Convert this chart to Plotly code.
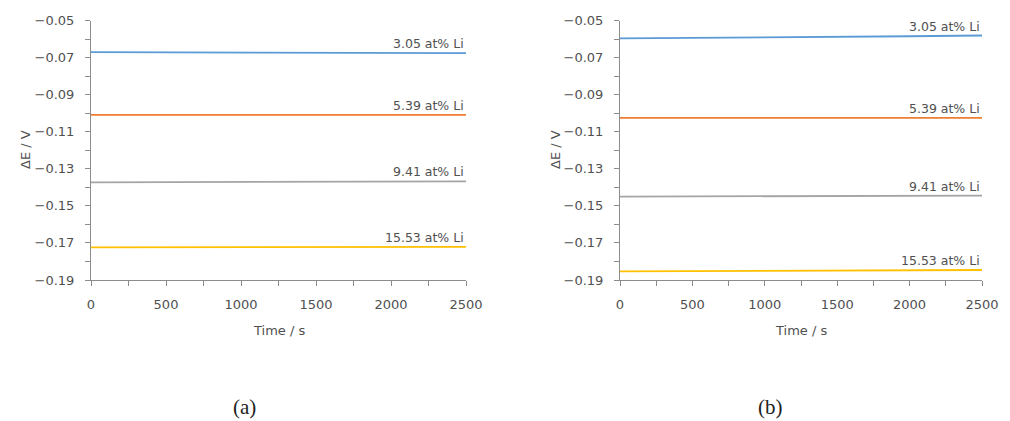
import plotly.graph_objects as go

# Cell potential difference vs. time for four Li concentrations
time_s = [0, 500, 1000, 1500, 2000, 2500]
labels = ["3.05 at% Li", "5.39 at% Li", "9.41 at% Li", "15.53 at% Li"]
colors = ["#5B9BD5", "#ED7D31", "#A5A5A5", "#FFC000"]

# Panel (a)
a_305 = [-0.0671, -0.0672, -0.0673, -0.0674, -0.0675, -0.0676]
a_539 = [-0.1009, -0.1009, -0.1009, -0.1009, -0.1009, -0.1009]
a_941 = [-0.1373, -0.1372, -0.1371, -0.1370, -0.1369, -0.1368]
a_1553 = [-0.1724, -0.1723, -0.1723, -0.1722, -0.1722, -0.1721]

# Panel (b)
b_305 = [-0.0596, -0.0594, -0.0592, -0.0589, -0.0585, -0.0581]
b_539 = [-0.1025, -0.1025, -0.1025, -0.1025, -0.1025, -0.1025]
b_941 = [-0.1450, -0.1449, -0.1448, -0.1447, -0.1446, -0.1445]
b_1553 = [-0.1854, -0.1853, -0.1851, -0.1849, -0.1848, -0.1846]

panels = [
    ("x", "y", [a_305, a_539, a_941, a_1553]),
    ("x2", "y2", [b_305, b_539, b_941, b_1553]),
]

y_ticks = [-0.05, -0.07, -0.09, -0.11, -0.13, -0.15, -0.17, -0.19]
x_ticks = [0, 500, 1000, 1500, 2000, 2500]

FONT = "DejaVu Sans"
TXT = "#505050"
AXC = "#8c8c8c"

H = 421.0
W = 1010.0

fig = go.Figure()
annotations = []
for xa, ya, series in panels:
    for lab, col, vals in zip(labels, colors, series):
        fig.add_trace(go.Scatter(x=time_s, y=vals, mode="lines",
                                 line=dict(color=col, width=1.8),
                                 xaxis=xa, yaxis=ya, showlegend=False,
                                 hoverinfo="skip"))
        annotations.append(dict(x=2500, y=vals[-1], xref=xa, yref=ya,
                                text=lab, showarrow=False, xanchor="right",
                                yanchor="bottom", yshift=0,
                                font=dict(family=FONT, size=12.5, color=TXT)))

y_dom = [1 - 280 / H, 1 - 20.5 / H]

def xaxis(domain, anchor):
    return dict(domain=domain, anchor=anchor, range=[0, 2500],
                tickvals=x_ticks, showgrid=False, zeroline=False,
                automargin=False,
                showline=True, linecolor=AXC, linewidth=1,
                ticks="outside", ticklen=5, tickcolor=AXC,
                ticklabelstandoff=7,
                minor=dict(ticks="outside", dtick=250, ticklen=5,
                           tickcolor=AXC, showgrid=False),
                tickfont=dict(family=FONT, size=13, color=TXT))

def yaxis(domain, anchor):
    return dict(domain=domain, anchor=anchor, range=[-0.19, -0.05],
                tickvals=y_ticks, tickformat=".2f", showgrid=False,
                zeroline=False, showline=True, linecolor=AXC, linewidth=1,
                automargin=False,
                ticks="outside", ticklen=5, tickcolor=AXC,
                ticklabelstandoff=8,
                minor=dict(ticks="outside", dtick=0.01, tick0=-0.19,
                           ticklen=5, tickcolor=AXC, showgrid=False),
                tickfont=dict(family=FONT, size=13, color=TXT))

def paper_text(cx, cy, text, size, family, color, angle=0):
    return dict(x=cx / W, y=1 - cy / H, xref="paper", yref="paper",
                text=text, showarrow=False, textangle=angle,
                xanchor="center", yanchor="middle",
                font=dict(family=family, size=size, color=color))

# Axis titles
for cx, ly in [(278.5, 25), (801, 555)]:
    annotations.append(paper_text(cx, 330, "Time / s", 13, FONT, TXT))
    annotations.append(paper_text(ly, 150, "ΔE / V", 13, FONT, TXT, -90))

# Panel captions
for cx, cap in [(244, "(a)"), (770, "(b)")]:
    annotations.append(paper_text(cx, 407, cap, 21, "Liberation Serif", "#222222"))

fig.update_layout(
    width=1010, height=421,
    margin=dict(l=0, r=0, t=0, b=0),
    paper_bgcolor="white", plot_bgcolor="white",
    xaxis=xaxis([91 / W, 466 / W], "y"),
    yaxis=yaxis(y_dom, "x"),
    xaxis2=xaxis([620 / W, 982 / W], "y2"),
    yaxis2=yaxis(y_dom, "x2"),
    annotations=annotations,
)

fig.write_html("out.html")
